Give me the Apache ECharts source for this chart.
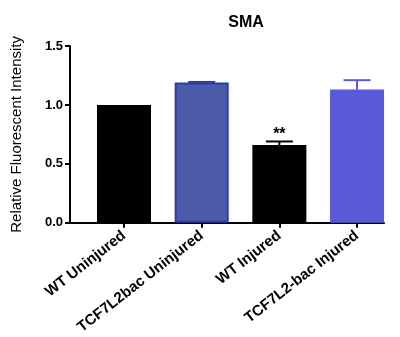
<!DOCTYPE html>
<html>
<head>
<meta charset="utf-8">
<script src="https://cdn.jsdelivr.net/npm/echarts@6/dist/echarts.min.js"></script>
<style>
html,body{margin:0;padding:0;background:#fff;}
#chart{width:400px;height:337px;}
</style>
</head>
<body>
<div id="chart"></div>
<script>
// Data
const categories = ['WT Uninjured', 'TCF7L2bac Uninjured', 'WT Injured', 'TCF7L2-bac Injured'];
const means = [1.0, 1.19, 0.66, 1.13];
const errors = [0, 0.005, 0.03, 0.08];
const significance = ['', '', '**', ''];
const yTicks = [0, 0.5, 1.0, 1.5];

// Styles
const barColors = ['#000000', '#4b5aa9', '#000000', '#5a5ad8'];
const barBorders = ['#000000', '#2c3ca6', '#000000', '#5a5ad8'];
const errColors = ['#000000', '#2c3ca6', '#000000', '#5a5ad8'];
const FONT = "'Liberation Sans', Arial, sans-serif";

const positions = categories.map((c, i) => i);

const chart = echarts.init(document.getElementById('chart'), null, {renderer: 'canvas'});
chart.setOption({
  animation: false,
  backgroundColor: '#ffffff',
  title: {
    text: 'SMA',
    left: 241,
    top: 10,
    textAlign: 'center',
    textStyle: {fontFamily: FONT, fontWeight: 'bold', fontSize: 16, color: '#000'}
  },
  grid: {left: 70, right: 16, top: 46, bottom: 113, containLabel: false},
  xAxis: {
    type: 'value',
    min: -0.695,
    max: 3.347,
    splitLine: {show: false},
    axisLine: {show: true, onZero: false, lineStyle: {color: '#000', width: 2}},
    axisTick: {show: true, customValues: positions, length: 5, lineStyle: {color: '#000', width: 2}},
    axisLabel: {
      customValues: positions,
      formatter: v => categories[Math.round(v)] || '',
      rotate: 38,
      margin: 11,
      fontFamily: FONT, fontWeight: 'bold', fontSize: 15, color: '#000'
    }
  },
  yAxis: {
    type: 'value',
    min: 0, max: 1.5, interval: 0.5,
    name: 'Relative Fluorescent Intensity',
    nameLocation: 'middle',
    nameGap: 46,
    nameTextStyle: {fontFamily: FONT, fontSize: 15, color: '#000'},
    splitLine: {show: false},
    axisLine: {show: true, onZero: false, lineStyle: {color: '#000', width: 2}},
    axisTick: {show: true, length: 5, lineStyle: {color: '#000', width: 2}},
    axisLabel: {
      formatter: v => yTicks.includes(v) ? v.toFixed(1) : '',
      margin: 7,
      fontFamily: FONT, fontWeight: 'bold', fontSize: 13, color: '#000'
    }
  },
  series: [
    {
      type: 'bar',
      barWidth: 54,
      data: means.map((m, i) => ({
        value: [positions[i], m],
        itemStyle: {color: barColors[i], borderColor: barBorders[i], borderWidth: 2}
      })),
      z: 2
    },
    {
      type: 'custom',
      z: 3,
      encode: {x: 0, y: 1},
      data: means.map((m, i) => [positions[i], m, errors[i]]),
      renderItem: (params, api) => {
        const i = params.dataIndex;
        const x = api.value(0), y = api.value(1), e = api.value(2);
        const base = api.coord([x, y]);
        const top = api.coord([x, y + e]);
        const color = errColors[i];
        const half = 13.5;
        const children = [];
        if (e > 0) {
          children.push({type: 'line', shape: {x1: top[0], y1: base[1], x2: top[0], y2: top[1]}, style: {stroke: color, lineWidth: 2}});
          children.push({type: 'line', shape: {x1: top[0] - half, y1: top[1], x2: top[0] + half, y2: top[1]}, style: {stroke: color, lineWidth: 2}});
        }
        if (significance[i]) {
          children.push({type: 'text', style: {text: significance[i], x: top[0], y: top[1] - 7, align: 'center', verticalAlign: 'middle', fontFamily: FONT, fontWeight: 'bold', fontSize: 16, fill: '#000'}});
        }
        return {type: 'group', children};
      }
    }
  ]
});
</script>
</body>
</html>
